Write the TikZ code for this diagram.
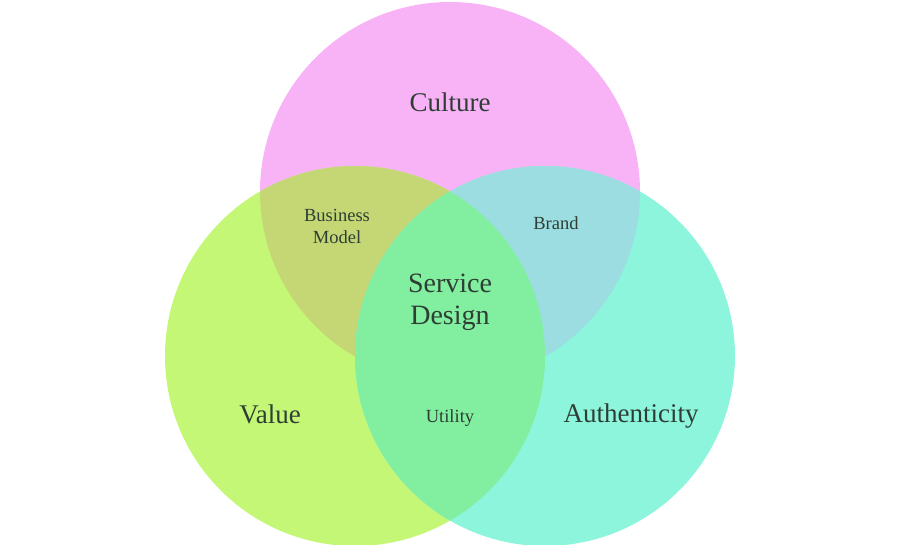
\documentclass[tikz,border=0pt]{standalone}
\usepackage{fontspec}
\setmainfont{Liberation Serif}
\definecolor{pinkc}{HTML}{F8B2F6}
\definecolor{limec}{HTML}{C4F775}
\definecolor{aquac}{HTML}{8CF5DC}
\definecolor{olivec}{HTML}{C5D775}
\definecolor{bluec}{HTML}{9CDDE2}
\definecolor{mintc}{HTML}{82EEA0}
\definecolor{inkc}{HTML}{2E3E34}
\begin{document}
\begin{tikzpicture}[x=1pt, y=-1pt,
    big/.style={font=\fontsize{27}{32}\selectfont, text=inkc, align=center},
    small/.style={font=\fontsize{18.5}{22}\selectfont, text=inkc, align=center}]
\useasboundingbox (0,0) rectangle (900,544);
\coordinate (top) at (450,192);
\coordinate (lft) at (355,356);
\coordinate (rgt) at (545,356);
\fill[pinkc] (top) circle[radius=190pt];
\fill[limec] (lft) circle[radius=190pt];
\fill[aquac] (rgt) circle[radius=190pt];
% overlaps
\begin{scope}
  \clip (top) circle[radius=190pt];
  \fill[olivec] (lft) circle[radius=190pt];
  \fill[bluec] (rgt) circle[radius=190pt];
\end{scope}
\begin{scope}
  \clip (lft) circle[radius=190pt];
  \fill[mintc] (rgt) circle[radius=190pt];
\end{scope}
\node[big] (culture) at (450,102) {Culture};
\node[small] (business) at (337,226) {Business\\Model};
\node[small] (brand) at (556,223) {Brand};
\node[big, font=\fontsize{28}{32}\selectfont] (service) at (450,302) {Service\\Design};
\node[big] (value) at (270,414) {Value};
\node[small] (utility) at (450,418) {Utility};
\node[big] (authenticity) at (631,416) {Authenticity};
\end{tikzpicture}
\end{document}
